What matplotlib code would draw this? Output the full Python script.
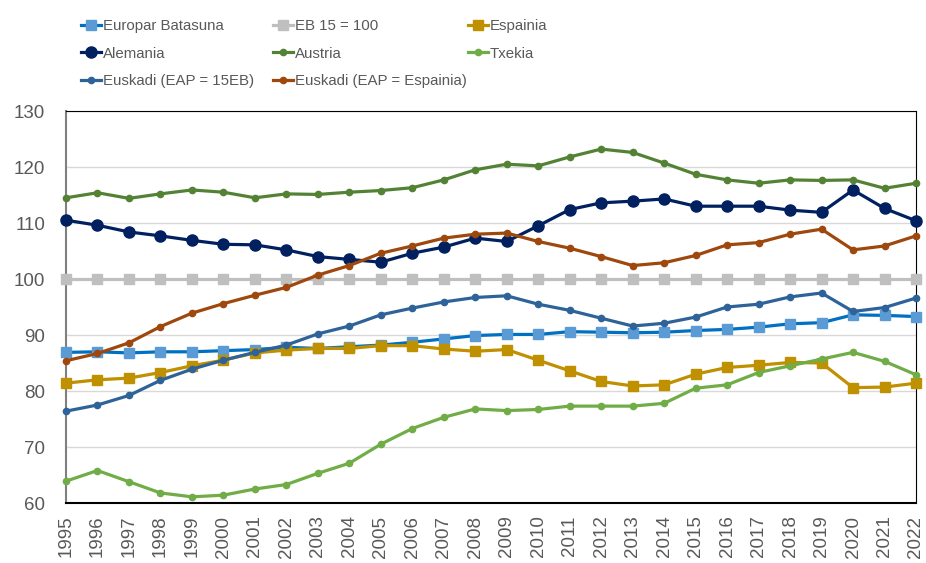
import numpy as np
import matplotlib
matplotlib.use('Agg')
import matplotlib.pyplot as plt
from matplotlib.lines import Line2D

years = list(range(1995, 2023))

europar = [86.9, 87.0, 86.8, 87.0, 87.0, 87.2, 87.4, 87.8, 87.6, 87.9, 88.2, 88.7, 89.3, 89.9,
           90.1, 90.1, 90.6, 90.5, 90.4, 90.5, 90.8, 91.0, 91.4, 92.0, 92.2, 93.6, 93.5, 93.3]
eb15 = [100] * len(years)
espainia = [81.4, 82.0, 82.3, 83.3, 84.5, 85.5, 86.8, 87.3, 87.6, 87.6, 88.1, 88.1, 87.5, 87.1,
            87.4, 85.5, 83.6, 81.7, 80.9, 81.1, 83.0, 84.2, 84.6, 85.1, 85.0, 80.6, 80.7, 81.4]
alemania = [110.5, 109.6, 108.4, 107.7, 106.9, 106.2, 106.1, 105.2, 104.0, 103.5, 103.0, 104.6, 105.7, 107.3,
            106.7, 109.5, 112.4, 113.6, 113.9, 114.3, 113.0, 113.0, 113.0, 112.3, 111.9, 115.9, 112.6, 110.4]
austria = [114.5, 115.4, 114.4, 115.2, 115.9, 115.5, 114.5, 115.2, 115.1, 115.5, 115.8, 116.3, 117.7, 119.5,
           120.5, 120.2, 121.8, 123.2, 122.6, 120.7, 118.7, 117.7, 117.1, 117.7, 117.6, 117.7, 116.2, 117.1]
txekia = [63.9, 65.8, 63.8, 61.8, 61.1, 61.4, 62.5, 63.3, 65.3, 67.1, 70.5, 73.3, 75.3, 76.8,
          76.5, 76.7, 77.3, 77.3, 77.3, 77.8, 80.5, 81.1, 83.3, 84.5, 85.7, 86.9, 85.3, 82.9]
euskadi_eb = [76.4, 77.5, 79.2, 81.9, 83.9, 85.5, 86.9, 88.2, 90.2, 91.6, 93.6, 94.8, 95.9, 96.7,
              97.0, 95.5, 94.4, 93.0, 91.6, 92.1, 93.2, 95.0, 95.5, 96.8, 97.5, 94.2, 94.9, 96.6]
euskadi_es = [85.4, 86.7, 88.6, 91.5, 93.9, 95.6, 97.1, 98.5, 100.7, 102.4, 104.6, 105.9, 107.3, 108.0,
              108.2, 106.7, 105.5, 104.0, 102.4, 102.9, 104.2, 106.1, 106.5, 108.0, 108.9, 105.2, 105.9, 107.7]

# label, values, line colour, marker, marker colour, marker size
series = [
    ("Europar Batasuna", europar, "#0070C0", "s", "#5B9BD5", 7.5),
    ("EB 15 = 100", eb15, "#BFBFBF", "s", "#BFBFBF", 7.5),
    ("Espainia", espainia, "#BF9000", "s", "#BF9000", 7.5),
    ("Alemania", alemania, "#002060", "o", "#002060", 8),
    ("Austria", austria, "#548235", "o", "#548235", 4.5),
    ("Txekia", txekia, "#70AD47", "o", "#70AD47", 4.5),
    ("Euskadi (EAP = 15EB)", euskadi_eb, "#2E6399", "o", "#2E6399", 4.5),
    ("Euskadi (EAP = Espainia)", euskadi_es, "#9E480E", "o", "#9E480E", 4.5),
]

plt.rcParams['font.family'] = ['Liberation Sans', 'DejaVu Sans']

fig = plt.figure(figsize=(9.26, 5.63), dpi=100)
ax = fig.add_axes([66 / 926, 1 - 503 / 563, 850 / 926, 392 / 563])

handles = {}
for name, vals, lc, mk, mc, ms in series:
    h, = ax.plot(years, vals, color=lc, lw=2.3, marker=mk, markersize=ms,
                 markerfacecolor=mc, markeredgecolor=mc, clip_on=False, zorder=3)
    handles[name] = h

ax.set_xlim(1995, 2022)
ax.set_ylim(60, 130)
ax.set_yticks(range(60, 131, 10))
ax.set_xticks(years)
ax.set_xticklabels([str(y) for y in years], rotation=90)
ax.tick_params(axis='both', length=0, labelsize=13.5, labelcolor="#595959")
ax.tick_params(axis='y', pad=15)
ax.tick_params(axis='x', pad=9)
ax.grid(axis='y', color="#D9D9D9", lw=1)
ax.set_axisbelow(True)

ax.spines['left'].set_color("#808080")
ax.spines['left'].set_linewidth(1.5)
ax.spines['bottom'].set_color("black")
ax.spines['bottom'].set_linewidth(1.5)
ax.spines['top'].set_color("black")
ax.spines['top'].set_linewidth(0.8)
ax.spines['right'].set_color("black")
ax.spines['right'].set_linewidth(0.8)

# legend: three columns laid out like the original
columns = [
    (["Europar Batasuna", "Alemania", "Euskadi (EAP = 15EB)"], 81),
    (["EB 15 = 100", "Austria", "Euskadi (EAP = Espainia)"], 273),
    (["Espainia", "Txekia"], 468),
]
for names, xpos in columns:
    hs = []
    for name in names:
        h = handles[name]
        hs.append(Line2D([], [], color=h.get_color(), lw=2.3, marker=h.get_marker(),
                         markersize=h.get_markersize(), markerfacecolor=h.get_markerfacecolor(),
                         markeredgecolor=h.get_markeredgecolor()))
    fig.legend(hs, names, loc='upper left', bbox_to_anchor=(xpos / 926, 1 - 19 / 563),
               frameon=False, handlelength=1.3, handletextpad=0.15, labelspacing=0.9,
               borderpad=0, borderaxespad=0, prop={'size': 10.8},
               labelcolor="#595959")

plt.savefig("out.png", dpi=100)
plt.close()
